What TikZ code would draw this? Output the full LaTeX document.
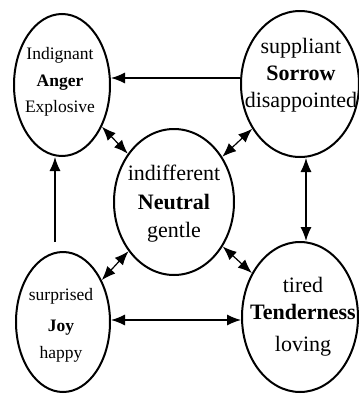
\documentclass[tikz,border=0pt]{standalone}
\usepackage{fontspec}
\setmainfont{Liberation Serif}
\usetikzlibrary{shapes.geometric,arrows.meta}

\begin{document}
\begin{tikzpicture}[x=1pt,y=1pt,
    emotion/.style={ellipse, draw, line width=2pt, inner sep=0pt},
    small/.style={align=center, font=\fontsize{17.5}{26.5}\selectfont},
    large/.style={align=center, font=\fontsize{22}{27}\selectfont},
    link/.style={line width=1.2pt, -{Latex[length=14pt,width=11pt]}},
    twoway/.style={line width=1.2pt, {Latex[length=14pt,width=11pt]}-{Latex[length=14pt,width=11pt]}}]
    \useasboundingbox (0,0) rectangle (359,-394);
    \clip (0,0) rectangle (359,-394);
    % --- Emotion states ---
    \node[emotion, minimum width=96pt, minimum height=142pt] (anger) at (62,-85) {};
    \node[emotion, minimum width=118pt, minimum height=146pt] (sorrow) at (300,-84) {};
    \node[emotion, minimum width=120pt, minimum height=146pt] (neutral) at (174,-202) {};
    \node[emotion, minimum width=94pt, minimum height=140pt] (joy) at (63,-322) {};
    \node[emotion, minimum width=116pt, minimum height=150pt] (tender) at (300,-317) {};
    % Texts
    \node[small] (angertext) at (60,-82) {Indignant\\\textbf{Anger}\\Explosive};
    \node[large] (sorrowtext) at (301,-75) {suppliant\\\textbf{Sorrow}\\disappointed};
    \node[align=center, font=\fontsize{22}{28.5}\selectfont] (neutraltext) at (174,-204) {indifferent\\\textbf{Neutral}\\gentle};
    \node[small] (joytext) at (61,-325) {surprised\\[5pt]\textbf{Joy}\\happy};
    \node[large] (tendertext) at (303,-317) {tired\\\textbf{Tenderness}\\[5pt]loving};
    % --- Transitions ---
    \draw[link] ([yshift=6pt]sorrow.west) -- ([yshift=7pt]anger.east);
    \draw[link] ([xshift=-8pt,yshift=9pt]joy.north) -- ([xshift=-7pt]anger.south);
    \draw[twoway] ([yshift=2pt]joy.east) -- ([yshift=-3pt]tender.west);
    \draw[twoway] ([xshift=6pt]sorrow.south) -- ([xshift=6pt]tender.north);
    % Neutral to every state
    \foreach \s in {anger,sorrow,joy,tender}{
        \draw[twoway] (neutral) -- (\s);
    }
\end{tikzpicture}
\end{document}
